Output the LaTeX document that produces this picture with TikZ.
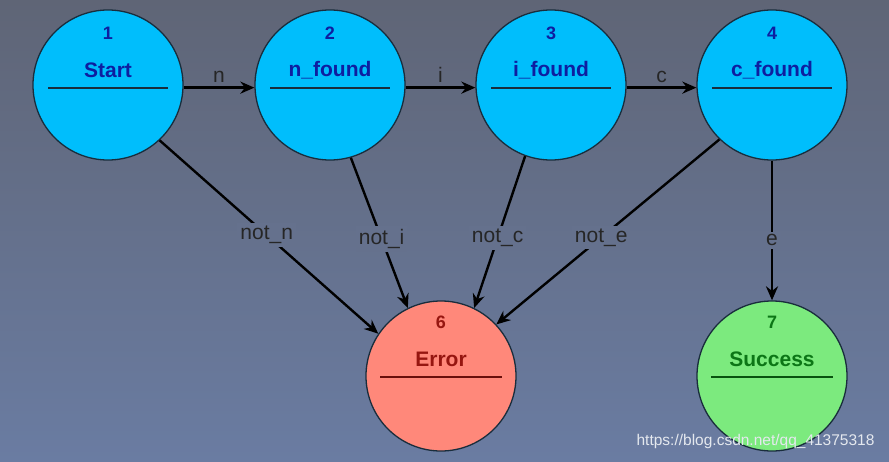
\documentclass[tikz,border=0pt]{standalone}
\usepackage{fontspec}
\setmainfont{Liberation Sans}
\usetikzlibrary{arrows.meta}

\definecolor{bgtop}{RGB}{95,101,118}
\definecolor{bgbot}{RGB}{106,124,162}
\definecolor{rim}{RGB}{25,45,60}
\definecolor{bluefill}{RGB}{0,190,252}
\definecolor{bluetext}{RGB}{14,30,160}
\definecolor{redfill}{RGB}{255,136,122}
\definecolor{redtext}{RGB}{150,22,16}
\definecolor{greenfill}{RGB}{124,234,126}
\definecolor{greentext}{RGB}{12,118,22}

\tikzset{
  state/.style={circle, draw=rim, line width=1.3pt, minimum size=150pt, inner sep=0pt},
  num/.style={font=\fontsize{18}{20}\selectfont\bfseries},
  title/.style={font=\fontsize{21}{24}\selectfont\bfseries},
  sep/.style={line width=1.3pt},
  edge/.style={->, line width=2.4pt, black},
  elabel/.style={font=\fontsize{21}{24}\selectfont, text=black!85, fill=bgtop!48!bgbot, inner sep=3pt}
}

\begin{document}
\begin{tikzpicture}[x=1pt, y=-1pt, >={Stealth[length=14pt,width=12pt]}]
\def\yA{85}
\def\yB{376}

% Background
\shade[top color=bgtop, bottom color=bgbot] (0,0) rectangle (889,461);
\useasboundingbox (0,0) rectangle (889,461);

% Upper states
\foreach \i/\x/\name in {1/108/Start, 2/330/n\_found, 3/551/i\_found, 4/772/c\_found}{
  \node[state, fill=bluefill] (s\i) at (\x,\yA) {};
  \node[num, text=bluetext] (n\i) at (\x,\yA-52) {\i};
  \node[title, text=bluetext] (t\i) at (\x,\yA-15) {\name};
  \draw[sep, draw=rim] (\x-60,\yA+3) -- (\x+60,\yA+3);
}

% Error
\node[state, fill=redfill] (s6) at (441,\yB) {};
\node[num, text=redtext] (n6) at (441,\yB-54) {6};
\node[title, text=redtext] (t6) at (441,\yB-17) {Error};
\draw[sep, draw=redtext!70!black] (380,\yB+1) -- (502,\yB+1);

% Success
\node[state, fill=greenfill] (s7) at (772,\yB) {};
\node[num, text=greentext] (n7) at (772,\yB-54) {7};
\node[title, text=greentext] (t7) at (772,\yB-17) {Success};
\draw[sep, draw=greentext!70!black] (711,\yB+1) -- (833,\yB+1);

% Transitions
\draw[edge] (s1.-2) -- node[elabel, fill=none, above=1pt] {n} (s2.182);
\draw[edge] (s2.-2) -- node[elabel, fill=none, above=1pt] {i} (s3.182);
\draw[edge] (s3.-2) -- node[elabel, fill=none, above=1pt] {c} (s4.182);

\draw[edge] (s1.-47) -- node[elabel, pos=0.49] {not\_n} (s6.146);
\draw[edge] (s2.-74) -- node[elabel, pos=0.54] {not\_i} (s6.116);
\draw[edge] (s3.-110) -- node[elabel, pos=0.54] {not\_c} (s6.64);
\draw[edge] (s4.-134) -- node[elabel, pos=0.53] {not\_e} (s6.43);
\draw[edge] (s4.-90) -- node[elabel, pos=0.57] {e} (s7.90);

% Watermark
\node[font=\fontsize{15.5}{18}\selectfont, text=white!82!bgbot, anchor=east] (wm) at (878,441) {https://blog.csdn.net/qq\_41375318};

\end{tikzpicture}
\end{document}
